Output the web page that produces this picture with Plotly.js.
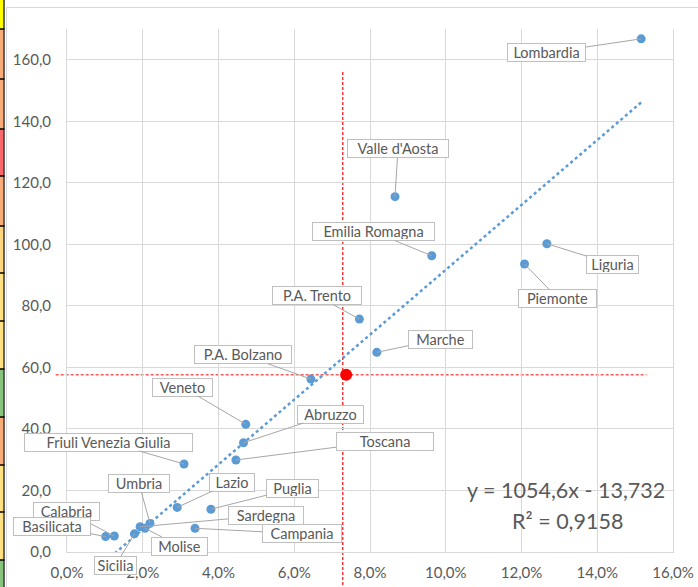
<!DOCTYPE html>
<html><head><meta charset="utf-8">
<script src="https://cdn.plot.ly/plotly-3.0.1.min.js"></script>
<style>html,body{margin:0;padding:0;background:#fff;}#chart{width:698px;height:587px;}</style>
</head><body><div id="chart"></div>
<script>
// ---- data ----
const regions = ["Lombardia","Liguria","Piemonte","Valle d'Aosta","Emilia Romagna","P.A. Trento","Marche","P.A. Bolzano","Veneto","Abruzzo","Toscana","Friuli Venezia Giulia","Lazio","Puglia","Campania","Umbria","Sardegna","Molise","Sicilia","Calabria","Basilicata"];
const shareX = [0.1516,0.1267,0.1208,0.0866,0.0963,0.0772,0.0818,0.0644,0.0472,0.0466,0.0446,0.0309,0.0291,0.0380,0.0338,0.0219,0.0193,0.0206,0.0178,0.0125,0.0102];
const valueY = [166.8,100.2,93.6,115.5,96.3,75.7,64.9,56.2,41.5,35.5,29.9,28.6,14.5,13.9,7.7,9.3,8.2,7.7,5.9,5.2,5.0];
const italyX = [0.0737];
const italyY = [57.6];
const refLineX = 0.0728;          // vertical red dashed line
const refLineY = 57.6;            // horizontal red dashed line
const refLineXSpan = [-0.003, 0.153];
const refLineYSpan = [-14, 156.7];
const trendSlope = 1054.6;
const trendIntercept = -13.732;
const trendR2 = 0.9158;
const xTickVals = [0,0.02,0.04,0.06,0.08,0.10,0.12,0.14,0.16];
const yTickVals = [0,20,40,60,80,100,120,140,160];

// ---- layout / styling (not data) ----
const W = 698, H = 587;
const M = {l:67, r:25, t:29, b:35};
const xRange = [0, 0.16], yRange = [0, 170];
// label callout offsets [ax, ay, boxWidth] in px, same order as regions
const labelStyle = [
  [-94.5,14,79],[65.8,20.5,53],[33.2,34.2,79],[3,-47.7,102],[-58.7,-24,123],
  [-42.3,-23.3,90],[63.3,-13.3,65],[-68,-24.3,98],[-63.2,-37.3,61],[87.2,-28.7,67],
  [148.8,-19,98],[-75.5,-22,169],[54.7,-25.3,46],[81.8,-20.7,53],[107,5.5,80],
  [-11,-40.3,62],[126,-11.3,76],[34.5,17.7,57],[-19,31.5,43],[-48,-25,67],[-53.5,-10.5,78]
];
const stripRows = [0,29,79,129,176,226,273,321,369,417,465,512,560,587];
const stripColors = ['#FFFF00','#F8AC78','#F8AC78','#F8696B','#F8AC78','#FDD47F','#FFE083','#FFE083','#86C47C','#F8AC78','#FFE083','#FFE083','#86C47C'];

const pw = W - M.l - M.r, ph = H - M.t - M.b;
const pxToPaperX = px => (px - M.l) / pw;
const pxToPaperY = py => (H - M.b - py) / ph;
const valToPaperX = v => (v - xRange[0]) / (xRange[1] - xRange[0]);
const valToPaperY = v => (v - yRange[0]) / (yRange[1] - yRange[0]);

const fontFam = 'Lato, "Open Sans", sans-serif';
const grey = '#595959';

const minX = Math.min(...shareX), maxX = Math.max(...shareX);
const trendX = [minX, maxX];
const trendY = trendX.map(x => trendSlope * x + trendIntercept);

const traces = [
  {x: trendX, y: trendY, mode: 'lines', line: {color: '#5B9BD5', width: 2.5, dash: 'dot'}, hoverinfo: 'skip'},
  {x: shareX, y: valueY, text: regions, mode: 'markers', marker: {color: '#5B9BD5', size: 9}},
  {x: italyX, y: italyY, mode: 'markers', marker: {color: '#FF0000', size: 12}}
];

const shapes = [];
// spreadsheet colour strip behind the chart
for (let i = 0; i < stripColors.length; i++) {
  shapes.push({type:'rect', xref:'paper', yref:'paper', layer:'below',
    x0: pxToPaperX(0), x1: pxToPaperX(3.5), y0: pxToPaperY(stripRows[i]), y1: pxToPaperY(stripRows[i+1]),
    fillcolor: stripColors[i], line: {width: 0}});
  if (i > 0) shapes.push({type:'line', xref:'paper', yref:'paper', layer:'below',
    x0: pxToPaperX(0), x1: pxToPaperX(4.5), y0: pxToPaperY(stripRows[i]), y1: pxToPaperY(stripRows[i]),
    line: {color: '#000', width: 1.5}});
}
shapes.push({type:'line', xref:'paper', yref:'paper', layer:'below',
  x0: pxToPaperX(4), x1: pxToPaperX(4), y0: pxToPaperY(0), y1: pxToPaperY(H), line:{color:'#000', width:1.2}});
// chart frame
shapes.push({type:'rect', xref:'paper', yref:'paper', layer:'below',
  x0: pxToPaperX(6.5), x1: pxToPaperX(W + 5), y0: pxToPaperY(7.5), y1: pxToPaperY(H + 5),
  line: {color: '#D9D9D9', width: 1}, fillcolor: 'rgba(0,0,0,0)'});
// red reference lines
shapes.push({type:'line', xref:'x', yref:'paper', layer:'between',
  x0: refLineX, x1: refLineX, y0: valToPaperY(refLineYSpan[0]), y1: valToPaperY(refLineYSpan[1]),
  line: {color: '#FF3030', width: 1.4, dash: '3px,2px'}});
shapes.push({type:'line', xref:'paper', yref:'y', layer:'between',
  x0: valToPaperX(refLineXSpan[0]), x1: valToPaperX(refLineXSpan[1]), y0: refLineY, y1: refLineY,
  line: {color: '#FF5A5A', width: 1.4, dash: '3px,2px'}});

const annotations = regions.map((name, i) => ({
  x: shareX[i], y: valueY[i], xref: 'x', yref: 'y', text: name,
  showarrow: true, arrowhead: 0, arrowwidth: 1, arrowcolor: '#A6A6A6', standoff: 0,
  ax: labelStyle[i][0], ay: labelStyle[i][1],
  width: labelStyle[i][2] - 4, height: 15, borderpad: 1,
  bgcolor: '#FFFFFF', bordercolor: '#BFBFBF', borderwidth: 1,
  font: {family: fontFam, size: 14.5, color: grey}
}));
const fmt = v => String(v).replace('.', ',');
annotations.push({
  xref: 'paper', yref: 'paper', x: pxToPaperX(566), y: pxToPaperY(490), xanchor: 'center', yanchor: 'middle',
  showarrow: false, text: 'y = ' + fmt(trendSlope) + 'x - ' + fmt(Math.abs(trendIntercept)),
  font: {family: fontFam, size: 21.5, color: grey}
});
annotations.push({
  xref: 'paper', yref: 'paper', x: pxToPaperX(567), y: pxToPaperY(521), xanchor: 'center', yanchor: 'middle',
  showarrow: false, text: 'R² = ' + fmt(trendR2),
  font: {family: fontFam, size: 21.5, color: grey}
});

const layout = {
  width: W, height: H, margin: M,
  paper_bgcolor: '#FFFFFF', plot_bgcolor: '#FFFFFF',
  showlegend: false, separators: ',.',
  font: {family: fontFam, color: grey, size: 15},
  xaxis: {range: xRange, tickvals: xTickVals, tickformat: '.1%', gridcolor: '#D9D9D9', gridwidth: 1,
    showline: true, linecolor: '#D9D9D9', zeroline: false, ticks: '', ticklabelstandoff: 7,
    tickfont: {family: fontFam, size: 15, color: grey}, fixedrange: true},
  yaxis: {range: yRange, tickvals: yTickVals, tickformat: '.1f', gridcolor: '#D9D9D9', gridwidth: 1,
    showline: true, mirror: true, linecolor: '#D9D9D9', zeroline: false, ticks: '', ticklabelstandoff: 12,
    tickfont: {family: fontFam, size: 15, color: grey}, fixedrange: true},
  shapes: shapes,
  annotations: annotations
};

Plotly.newPlot('chart', traces, layout, {displayModeBar: false, staticPlot: true});
</script></body></html>
